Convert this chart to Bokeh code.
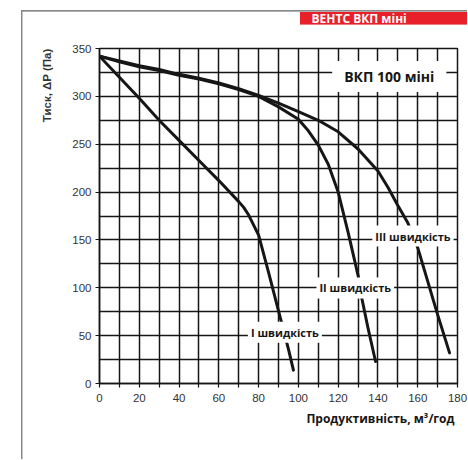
import math
from bokeh.plotting import figure
from bokeh.models import Label, Range1d, FixedTicker, Title
from bokeh.embed import file_html
from bokeh.resources import INLINE

# Curve I (speed I)
q1 = [0, 10, 20, 30, 40, 50, 60, 70, 72.5, 75, 80, 85, 90, 95, 97.5]
p1 = [342, 320, 298, 275, 254, 233, 212, 190, 184, 176, 155, 116, 76, 36, 14]
# Curve II (speed II)
q2 = [0, 10, 20, 30, 40, 50, 60, 70, 80, 90, 100, 105, 110, 115, 120, 125, 130, 132, 135, 138.8]
p2 = [342, 336, 331, 327, 322, 318, 313, 307, 300, 289, 276, 264, 249, 229, 200, 158, 113, 88, 58, 23]
# Curve III (speed III)
q3 = [0, 10, 20, 30, 40, 50, 60, 70, 80, 90, 100, 110, 120, 130, 140, 145, 150, 155, 160, 165, 170, 176]
p3 = [342, 337, 332, 328, 323, 319, 314, 308, 301, 293, 284, 275, 263, 245, 222, 205, 186, 168, 142, 107, 72, 32]

x_ticks = list(range(0, 181, 20))
x_minor = list(range(10, 180, 20))
y_ticks = list(range(0, 351, 50))
x_grid = list(range(0, 181, 10))
y_grid = list(range(0, 351, 25))

speed_text = ["I швидкість", "II швидкість", "III швидкість"]
speed_x = [93.2, 128.6, 157.6]
speed_y = [53.6, 99.8, 154.1]
model_text = "ВКП 100 міні"
model_x, model_y = 145.7, 320.8
banner_text = "ВЕНТС ВКП міні"
x_title = "Продуктивність, м³/год"
y_title = "Тиск, ΔP (Па)"

INK = "#161616"
FRAME_GREY = "#8a8a8a"
BANNER_RED = "#e8202a"

p = figure(width=467, height=459, x_range=Range1d(0, 180), y_range=Range1d(0, 350),
           output_backend="svg", toolbar_location=None,
           min_border_left=99, min_border_right=10, min_border_top=48, min_border_bottom=76)
p.background_fill_color = "white"
p.border_fill_alpha = 0
p.outline_line_color = INK
p.outline_line_width = 1.5
# page frame (grey left/top edges) and red banner strip behind the transparent canvas border
p.styles = {
    "background-color": "white",
    "background-image": (f"linear-gradient({FRAME_GREY}, {FRAME_GREY}), "
                         f"linear-gradient({FRAME_GREY}, {FRAME_GREY}), "
                         f"linear-gradient({BANNER_RED}, {BANNER_RED})"),
    "background-size": "1.5px 460px, 460px 1.7px, 170px 12.6px",
    "background-position": "21px 10px, 21px 10px, 300px 11.7px",
    "background-repeat": "no-repeat",
}

p.xaxis.ticker = FixedTicker(ticks=x_ticks, minor_ticks=x_minor)
p.yaxis.ticker = FixedTicker(ticks=y_ticks)
p.xgrid[0].ticker = FixedTicker(ticks=x_grid)
p.ygrid[0].ticker = FixedTicker(ticks=y_grid)
for g in (p.xgrid[0], p.ygrid[0]):
    g.grid_line_color = INK
    g.grid_line_width = 1.5
    g.grid_line_alpha = 1.0

for ax in (p.xaxis, p.yaxis):
    ax.axis_line_color = INK
    ax.axis_line_width = 1.5
    ax.major_tick_line_color = INK
    ax.major_tick_line_width = 1.2
    ax.major_tick_out = 4
    ax.major_tick_in = 0
    ax.minor_tick_line_color = INK
    ax.minor_tick_line_width = 1.2
    ax.minor_tick_out = 4
    ax.minor_tick_in = 0
    ax.major_label_text_font = "Liberation Sans"
    ax.major_label_text_font_size = "11.5px"
    ax.major_label_text_color = "#333333"
p.yaxis.minor_tick_line_color = None
p.xaxis.major_label_standoff = 6
p.yaxis.major_label_standoff = 4

for q, pr in ((q1, p1), (q2, p2), (q3, p3)):
    p.line(q, pr, line_color=INK, line_width=3, line_join="round", line_cap="round")

for t, x, y in zip(speed_text, speed_x, speed_y):
    p.add_layout(Label(x=x, y=y, text=t, text_font="Open Sans", text_font_style="bold",
                       text_font_size="11px", text_color=INK, text_align="center",
                       text_baseline="middle", background_fill_color="white",
                       padding=(3, 3)))
p.add_layout(Label(x=model_x, y=model_y, text=model_text, text_font="Open Sans",
                   text_font_style="bold", text_font_size="14px", text_color=INK,
                   text_align="center", text_baseline="middle",
                   background_fill_color="white", padding=(12, 6)))

p.add_layout(Title(text=x_title, align="right", offset=3, standoff=6,
                   text_font="Open Sans", text_font_style="bold",
                   text_font_size="12px", text_color=INK), "below")
p.add_layout(Title(text=y_title, align="right", standoff=33,
                   text_font="Liberation Sans", text_font_style="bold",
                   text_font_size="11.5px", text_color="#333333"), "left")
p.add_layout(Title(text=banner_text, align="left", vertical_align="top", offset=212,
                   standoff=0, text_font="Open Sans", text_font_style="bold",
                   text_font_size="12px", text_color="white",
                   padding=dict(left=0, right=0, top=8, bottom=20)), "above")

open("out.html", "w").write(file_html(p, INLINE))
